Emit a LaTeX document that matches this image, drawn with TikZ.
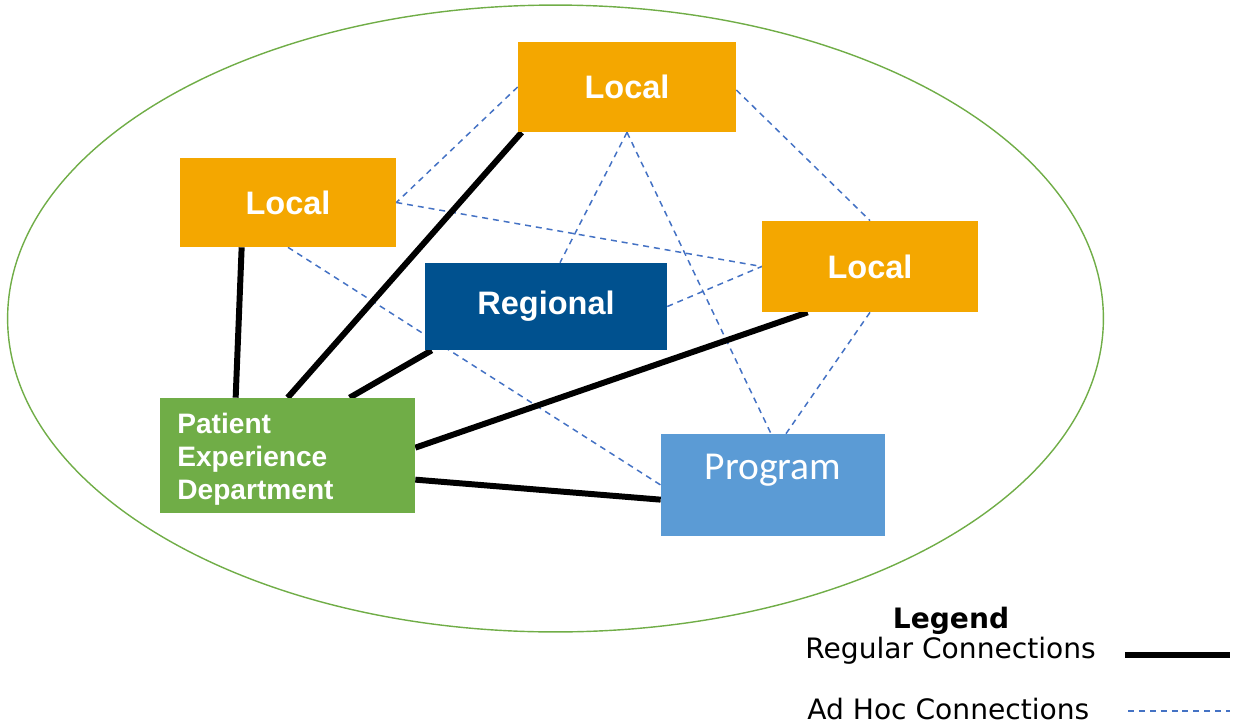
\documentclass[tikz,border=0pt]{standalone}
\usepackage{fontspec}
\usetikzlibrary{backgrounds,calc,shapes.geometric}
\newfontfamily\boxfont{Liberation Sans}
\newfontfamily\progfont{Carlito}
\newfontfamily\legfont{DejaVu Sans}
\definecolor{localorange}{HTML}{F4A700}
\definecolor{regionblue}{HTML}{00518F}
\definecolor{progblue}{HTML}{5B9BD5}
\definecolor{pedgreen}{HTML}{70AD47}
\definecolor{adhocblue}{HTML}{4472C4}
\tikzset{
  unit/.style={x=0.02cm,y=-0.02cm},
  orgbox/.style={rectangle, inner sep=0pt, text=white,
    font=\boxfont\bfseries\fontsize{18.5}{22}\selectfont},
  localbox/.style={orgbox, fill=localorange, minimum width=4.36cm, minimum height=1.8cm},
  regular/.style={line width=3.4pt, black},
  adhoc/.style={line width=0.85pt, adhocblue, dash pattern=on 3.4pt off 2.8pt},
  legendtext/.style={font=\legfont\fontsize{16}{19}\selectfont, inner sep=0pt},
}
\begin{document}
\begin{tikzpicture}[unit]
\useasboundingbox (0,0) rectangle (1233,727);

% organisational units
\node[localbox] (ltop) at (627,87) {Local};
\node[localbox, minimum width=4.32cm, minimum height=1.78cm] (lleft) at (288,202.5) {Local};
\node[localbox, minimum width=4.32cm, minimum height=1.82cm] (lright) at (870,266.5) {Local};
\node[orgbox, fill=regionblue, minimum width=4.84cm, minimum height=1.74cm] (reg) at (546,306.5) {Regional};
\node[rectangle, inner sep=0pt, fill=progblue, minimum width=4.48cm, minimum height=2.04cm] (prog) at (773,485) {};
\node[text=white, inner sep=0pt, font=\progfont\fontsize{22.5}{26}\selectfont] (progtext) at (773,470) {Program};
\node[orgbox, fill=pedgreen, minimum width=5.1cm, minimum height=2.3cm,
      font=\boxfont\bfseries\fontsize{16}{18.7}\selectfont,
      align=left, text width=4.42cm] (ped) at (287.5,455.5) {};
\node[text=white, inner sep=0pt, anchor=west, align=left,
      font=\boxfont\bfseries\fontsize{16}{18.7}\selectfont] (pedtext) at (177,459) {Patient\\Experience\\Department};

\begin{scope}[on background layer]
  % boundary of the network
  \node[draw=pedgreen, line width=0.8pt, ellipse, minimum width=21.92cm, minimum height=12.54cm, inner sep=0pt] (boundary) at (555.5,318.5) {};

  % ad hoc connections
  \draw[adhoc] (ltop.west) -- (lleft.east);
  \draw[adhoc] (lleft.east) -- (lright.west);
  \draw[adhoc] (lleft.south) -- (prog.west);
  \draw[adhoc] (ltop.south) -- ([xshift=0.28cm]reg.north);
  \draw[adhoc] (ltop.south) -- ([xshift=-0.04cm]prog.north);
  \draw[adhoc] ([yshift=-0.06cm]ltop.east) -- (lright.north);
  \draw[adhoc] (reg.east) -- (lright.west);
  \draw[adhoc] (lright.south) -- ([xshift=0.26cm]prog.north);

  % regular connections
  \draw[regular] ([xshift=1.52cm]ped.north west) -- ([xshift=1.24cm]lleft.south west);
  \draw[regular] ([xshift=2.56cm]ped.north west) -- ([xshift=0.08cm]ltop.south west);
  \draw[regular] ([xshift=3.8cm]ped.north west) -- ([xshift=0.14cm]reg.south west);
  \draw[regular] ([yshift=-1cm]ped.north east) -- ([xshift=0.92cm]lright.south west);
  \draw[regular] ([yshift=-1.64cm]ped.north east) -- ([yshift=-1.32cm]prog.north west);
\end{scope}

% legend
\node[legendtext, font=\legfont\bfseries\fontsize{16}{19}\selectfont] (legtitle) at (951,621) {Legend};
\node[legendtext, anchor=west] (legreg) at (805,651) {Regular Connections};
\node[legendtext, anchor=west] (legadhoc) at (807,709) {Ad Hoc Connections};
\coordinate (regA) at (1125,655);
\coordinate (regB) at (1230,655);
\coordinate (adhA) at (1128,711);
\coordinate (adhB) at (1230,711);
\draw[regular] (regA) -- (regB);
\draw[adhoc] (adhA) -- (adhB);
\end{tikzpicture}
\end{document}
